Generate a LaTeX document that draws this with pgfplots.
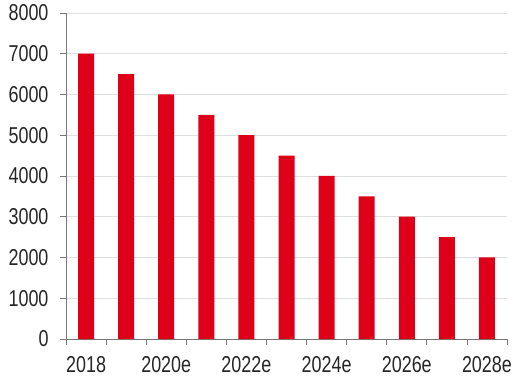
\documentclass[border=0pt]{standalone}
\usepackage{fontspec}
\setmainfont{Liberation Sans}
\newfontfamily\lab{Liberation Sans}
\usepackage{graphicx}
\usepackage{pgfplots}
\pgfplotsset{compat=1.18}
\definecolor{barred}{RGB}{222,0,24}
\definecolor{axgray}{RGB}{120,120,120}
\definecolor{gridgray}{RGB}{222,222,222}
\newcommand{\tl}[1]{\scalebox{1}[1.28]{\lab\fontsize{18}{21}\selectfont #1}}
\begin{document}
\begin{tikzpicture}
\begin{axis}[
  scale only axis,
  width=441bp, height=326bp,
  xmin=-0.5, xmax=10.5,
  ymin=0, ymax=8000,
  axis lines*=left,
  axis line style={axgray, line width=0.8pt},
  /pgf/number format/assume math mode=true,
  ytick={0,1000,...,8000},
  yticklabels={\tl{0},\tl{1000},\tl{2000},\tl{3000},\tl{4000},\tl{5000},\tl{6000},\tl{7000},\tl{8000}},
  xtick={0,2,4,6,8,10},
  xticklabels={\tl{2018},\tl{2020e},\tl{2022e},\tl{2024e},\tl{2026e},\tl{2028e}},
  minor xtick={-0.5,0.5,...,10.5},
  tick align=outside,
  major tick length=6bp,
  minor tick length=6bp,
  x tick style={draw=none},
  minor x tick style={draw=axgray, line width=0.8pt},
  y tick style={axgray, line width=0.8pt},
  ymajorgrids,
  major grid style={gridgray, line width=0.8pt},
  tick label style={text=black!85},
  yticklabel style={xshift=-8bp},
  xticklabel style={yshift=-8bp},
  ybar, bar width=16bp,
  clip=false,
]
\addplot[fill=barred, draw=none] coordinates {
(0,7000) (1,6500) (2,6000) (3,5500) (4,5000) (5,4500)
(6,4000) (7,3500) (8,3000) (9,2500) (10,2000)};
\end{axis}
\path (current axis.south west) ++(-66bp,-40bp) coordinate (bl);
\path (current axis.north east) ++(18bp,13bp) coordinate (tr);
\useasboundingbox (bl) rectangle (tr);
\end{tikzpicture}
\end{document}
